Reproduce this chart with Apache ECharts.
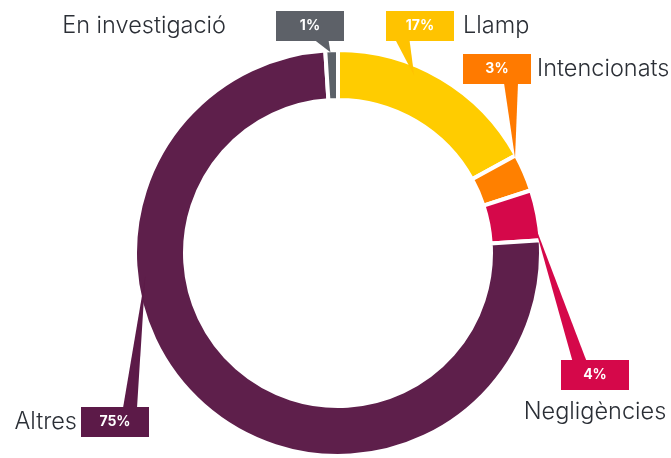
<!DOCTYPE html>
<html>
<head>
<meta charset="utf-8">
<script src="https://cdn.jsdelivr.net/npm/echarts@6/dist/echarts.min.js"></script>
<style>
  html, body { margin: 0; padding: 0; background: #fff; }
  #causesChart { width: 671px; height: 458px; }
</style>
</head>
<body>
<div id="causesChart"></div>
<script>
// data
var categories = ['Llamp', 'Intencionats', 'Negligències', 'Altres', 'En investigació'];
var values = [17, 3, 4, 75, 1];

// colours
var sliceColors = ['#FFCC00', '#FF8000', '#D5084A', '#5E1F4B', '#5B6168'];
var boxColors = ['#FFC300', '#FF7A00', '#D5084A', '#5C1A48', '#5D6168'];

// callout placement (box top-left, where the name sits, tail base / tip)
var boxPos = [[386, 11], [463, 54], [559, 360], [81, 407], [276, 11]];
var nameSide = ['right', 'right', 'below', 'left', 'left'];
var nameGap = [9, 6, 14, 4, 50];
var tailBase = [[16.5, 'bottom'], [48, 'bottom'], [20.5, 'top'], [49, 'top'], [45.5, 'bottom']];
var tailTip = [[0.38, -8], [0.05, 0], [0.62, -3], [0.655, -7], [0.4, 0]];

var BOX_W = 68, BOX_H = 30, TAIL_W = 14;

function initCausesChart() {
	var chart = echarts.init(document.getElementById('causesChart'));

	var rich = {};
	for (var i = 0; i < categories.length; i++) {
		rich['b' + i] = {
			width: BOX_W, height: BOX_H, lineHeight: BOX_H,
			align: 'center',
			backgroundColor: boxColors[i],
			color: '#fff', fontSize: 14, fontWeight: 'bold',
			fontFamily: 'Inter'
		};
		var pad = [0, 0, 0, 0];
		if (nameSide[i] == 'right') pad = [0, 0, 0, nameGap[i]];
		if (nameSide[i] == 'left') pad = [0, nameGap[i], 0, 0];
		if (nameSide[i] == 'below') pad = [nameGap[i], 0, 0, 0];
		rich['n' + i] = {
			fontSize: 23.5, fontWeight: 300, fontFamily: 'Inter',
			color: '#2B2F36', lineHeight: 30, padding: pad
		};
	}

	var pieData = [];
	for (var i = 0; i < categories.length; i++) {
		pieData.push({ value: values[i], name: categories[i] });
	}

	var option = {
		animation: false,
		color: sliceColors,
		series: [{
			name: 'Causes',
			type: 'pie',
			center: [338, 253],
			radius: [153, 203],
			startAngle: 90,
			clockwise: true,
			avoidLabelOverlap: false,
			itemStyle: { borderColor: '#fff', borderWidth: 4 },
			label: {
				show: true,
				position: 'outside',
				rich: rich,
				formatter: function (p) {
					var i = p.dataIndex;
					var box = '{b' + i + '|' + p.value + '%}';
					var nm = '{n' + i + '|' + p.name + '}';
					if (nameSide[i] == 'right') return box + nm;
					if (nameSide[i] == 'left') return nm + box;
					return box + '\n' + nm;
				}
			},
			labelLine: { show: false },
			labelLayout: function (params) {
				var i = params.dataIndex;
				var bx = boxPos[i][0], by = boxPos[i][1];
				if (nameSide[i] == 'right') return { x: bx, y: by, align: 'left', verticalAlign: 'top' };
				if (nameSide[i] == 'left') return { x: bx + BOX_W, y: by, align: 'right', verticalAlign: 'top' };
				return { x: bx + BOX_W / 2 + 2, y: by, align: 'center', verticalAlign: 'top' };
			},
			emphasis: { disabled: true },
			data: pieData
		}]
	};
	chart.setOption(option);

	// callout tails: from the box edge to a point on the slice given by the pie's own layout
	var seriesData = chart.getModel().getSeriesByIndex(0).getData();
	var tails = [];
	for (var i = 0; i < categories.length; i++) {
		var lay = seriesData.getItemLayout(i);
		var a = lay.startAngle + tailTip[i][0] * (lay.endAngle - lay.startAngle);
		var rr = lay.r - 2 + tailTip[i][1];
		var tip = [lay.cx + rr * Math.cos(a), lay.cy + rr * Math.sin(a)];
		var bxc = boxPos[i][0] + tailBase[i][0];
		var by = tailBase[i][1] == 'bottom' ? boxPos[i][1] + BOX_H - 1 : boxPos[i][1] + 1;
		tails.push({
			type: 'polygon',
			z: 10,
			silent: true,
			shape: { points: [[bxc - TAIL_W / 2, by], [bxc + TAIL_W / 2, by], tip] },
			style: { fill: boxColors[i] }
		});
	}
	chart.setOption({ graphic: tails });
}

initCausesChart();
</script>
</body>
</html>
